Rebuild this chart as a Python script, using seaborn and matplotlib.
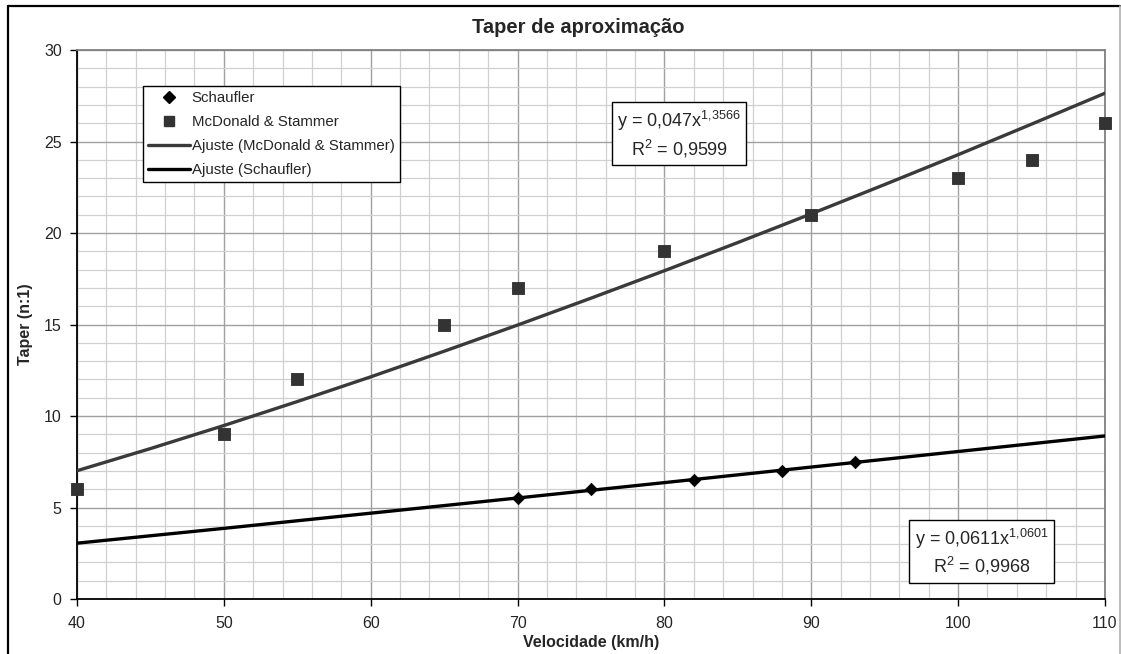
import numpy as np
import pandas as pd
import matplotlib
matplotlib.use("Agg")
import matplotlib.pyplot as plt
import seaborn as sns
from matplotlib.lines import Line2D
from matplotlib.ticker import MultipleLocator

# measured points
schaufler_v = [70, 75, 82, 88, 93]
schaufler_taper = [5.5, 6.0, 6.5, 7.0, 7.5]
mcdonald_v = [40, 50, 55, 65, 70, 80, 90, 100, 105, 110]
mcdonald_taper = [6, 9, 12, 15, 17, 19, 21, 23, 24, 26]

# trend lines
fit_md_v = [40, 45, 50, 55, 60, 65, 70, 75, 80, 85, 90, 95, 100, 105, 110]
fit_md_taper = [7.01, 8.22, 9.48, 10.79, 12.14, 13.54, 14.97, 16.44, 17.94,
                19.48, 21.05, 22.65, 24.28, 25.95, 27.64]
fit_sc_v = [40, 50, 60, 70, 80, 90, 100, 110]
fit_sc_taper = [3.05, 3.86, 4.69, 5.52, 6.36, 7.21, 8.06, 8.91]

sns.set_style("white")
plt.rcParams['font.family'] = ['Liberation Sans', 'DejaVu Sans']
plt.rcParams['mathtext.fontset'] = 'custom'
plt.rcParams['mathtext.rm'] = 'Liberation Sans'
plt.rcParams['mathtext.it'] = 'Liberation Sans'
plt.rcParams['mathtext.bf'] = 'Liberation Sans:bold'

fig = plt.figure(figsize=(11.21, 6.54), dpi=100)
ax = fig.add_axes([0.0687, 0.0841, 0.9170, 0.8394])

sns.lineplot(x=fit_md_v, y=fit_md_taper, ax=ax, color="#3a3a3a", linewidth=2.4, zorder=3)
sns.lineplot(x=fit_sc_v, y=fit_sc_taper, ax=ax, color="black", linewidth=2.4, zorder=3)
sns.scatterplot(x=mcdonald_v, y=mcdonald_taper, ax=ax, marker="s", s=65,
                color="#333333", edgecolor="#333333", zorder=4, clip_on=False)
sns.scatterplot(x=schaufler_v, y=schaufler_taper, ax=ax, marker="D", s=40,
                color="black", edgecolor="black", zorder=4)

ax.set_xlim(40, 110)
ax.set_ylim(0, 30)
ax.xaxis.set_major_locator(MultipleLocator(10))
ax.xaxis.set_minor_locator(MultipleLocator(2))
ax.yaxis.set_major_locator(MultipleLocator(5))
ax.yaxis.set_minor_locator(MultipleLocator(1))
ax.grid(which="major", color="#a0a0a0", linewidth=1.0)
ax.grid(which="minor", color="#d0d0d0", linewidth=0.9)
ax.set_axisbelow(True)
ax.tick_params(which="major", direction="out", length=5, width=1, color="black",
               labelsize=11.5, pad=6, bottom=True, left=True)
ax.tick_params(which="minor", length=0)
ax.tick_params(axis="x", pad=7)
for s in ["left", "bottom"]:
    ax.spines[s].set_color("black")
    ax.spines[s].set_linewidth(1.3)
for s in ["top", "right"]:
    ax.spines[s].set_color("#808080")
    ax.spines[s].set_linewidth(1.3)

ax.set_xlabel("Velocidade (km/h)", fontsize=11.5, fontweight="bold", labelpad=3)
ax.set_ylabel("Taper (n:1)", fontsize=11.5, fontweight="bold", labelpad=8)
fig.text(0.516, 0.958, "Taper de aproximação", ha="center", va="center",
         fontsize=14.5, fontweight="bold")

handles = [
    Line2D([], [], marker="D", color="black", linestyle="none", markersize=6),
    Line2D([], [], marker="s", color="#333333", linestyle="none", markersize=7),
    Line2D([], [], color="#3a3a3a", linewidth=2.4),
    Line2D([], [], color="black", linewidth=2.4),
]
labels = ["Schaufler", "McDonald & Stammer", "Ajuste (McDonald & Stammer)", "Ajuste (Schaufler)"]
leg = ax.legend(handles, labels, loc="upper left", bbox_to_anchor=(0.0642, 0.935),
                fontsize=10.8, frameon=True, fancybox=False, framealpha=1,
                edgecolor="black", handlelength=2.8, handletextpad=0.1,
                borderpad=0.35, labelspacing=0.67, borderaxespad=0)
leg.get_frame().set_linewidth(1.0)

box = dict(boxstyle="square,pad=0.3", facecolor="white", edgecolor="black", linewidth=1.0)
ax.text(81.0, 25.4, "y = 0,047x$^{1{,}3566}$\nR$^2$ = 0,9599", ha="center", va="center",
        fontsize=13, bbox=box, linespacing=1.25, zorder=5)
ax.text(101.6, 2.57, "y = 0,0611x$^{1{,}0601}$\nR$^2$ = 0,9968", ha="center", va="center",
        fontsize=13, bbox=box, linespacing=1.25, zorder=5)

# outer chart frame
fig.add_artist(Line2D([0.007, 0.999], [0.991, 0.991], color="black", linewidth=1.6))
fig.add_artist(Line2D([0.007, 0.007], [0.0, 0.991], color="black", linewidth=1.6))
fig.add_artist(Line2D([0.999, 0.999], [0.0, 0.991], color="#b0b0b0", linewidth=1.2))

fig.savefig("out.png", dpi=100)
